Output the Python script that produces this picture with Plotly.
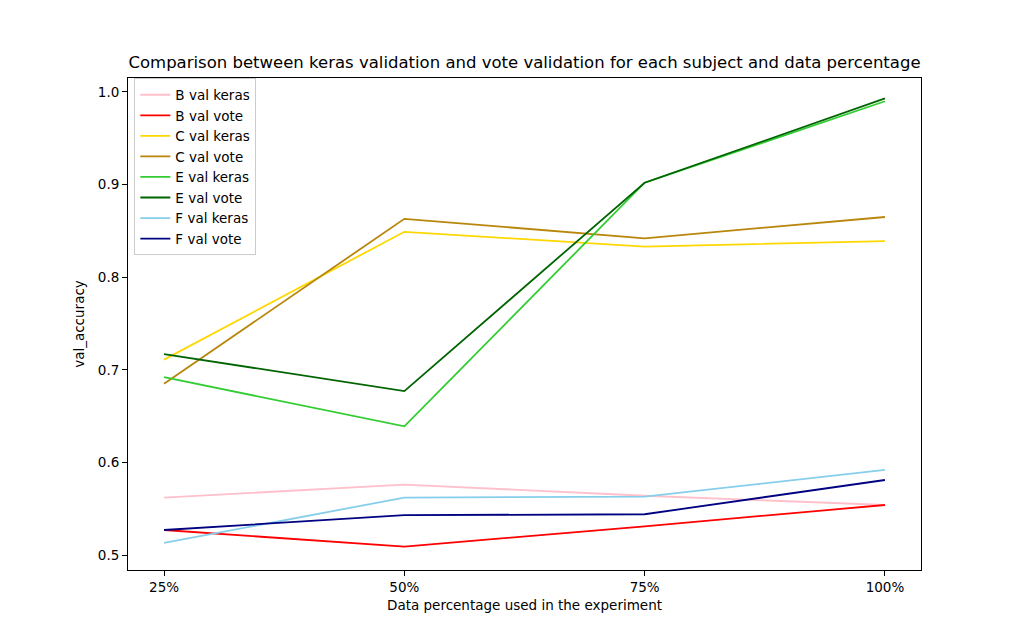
import plotly.graph_objects as go

# data
percentages = ['25%', '50%', '75%', '100%']

b_val_keras = [0.562, 0.576, 0.564, 0.554]
b_val_vote = [0.527, 0.509, 0.531, 0.554]
c_val_keras = [0.711, 0.849, 0.833, 0.839]
c_val_vote = [0.685, 0.863, 0.842, 0.865]
e_val_keras = [0.692, 0.639, 0.902, 0.990]
e_val_vote = [0.717, 0.677, 0.902, 0.993]
f_val_keras = [0.513, 0.562, 0.563, 0.592]
f_val_vote = [0.527, 0.543, 0.544, 0.581]

series = [
    ('B val keras', b_val_keras, 'pink'),
    ('B val vote', b_val_vote, 'red'),
    ('C val keras', c_val_keras, 'gold'),
    ('C val vote', c_val_vote, 'darkgoldenrod'),
    ('E val keras', e_val_keras, 'limegreen'),
    ('E val vote', e_val_vote, 'darkgreen'),
    ('F val keras', f_val_keras, 'skyblue'),
    ('F val vote', f_val_vote, 'navy'),
]

fig = go.Figure()
for name, values, colour in series:
    fig.add_trace(go.Scatter(x=[0, 1, 2, 3], y=values, mode='lines', name=name,
                             line=dict(color=colour, width=1.8)))

axis_style = dict(showline=True, linecolor='black', linewidth=1, mirror=True,
                  ticks='outside', ticklen=5, tickcolor='black', showgrid=False,
                  zeroline=False, tickfont=dict(size=13.5, color='black'))

# page has an 8px body margin, so the margins are shifted to compensate
fig.update_layout(
    width=1024, height=640,
    margin=dict(l=120, r=111, t=70, b=78),
    paper_bgcolor='white', plot_bgcolor='white',
    font=dict(family='DejaVu Sans', color='black', size=13.5),
    title=dict(text='Comparison between keras validation and vote validation for each subject and data percentage',
               x=0.5, xref='paper', y=1 - 54 / 640, yanchor='middle',
               font=dict(size=16.5)),
    xaxis=dict(axis_style, tickmode='array', tickvals=[0, 1, 2, 3], ticktext=percentages,
               range=[-0.15, 3.15],
               title=dict(text='Data percentage used in the experiment', standoff=6,
                          font=dict(size=13.5))),
    yaxis=dict(axis_style, range=[0.4838, 1.0151], tickmode='array',
               tickvals=[0.5, 0.6, 0.7, 0.8, 0.9, 1.0], tickformat='.1f',
               title=dict(text='val_accuracy', standoff=10, font=dict(size=13.5))),
    legend=dict(x=0.008, y=0.999, xanchor='left', yanchor='top',
                bgcolor='white', bordercolor='#cccccc', borderwidth=1,
                tracegroupgap=0, font=dict(size=13.5)),
)

fig.write_html('out.html')
